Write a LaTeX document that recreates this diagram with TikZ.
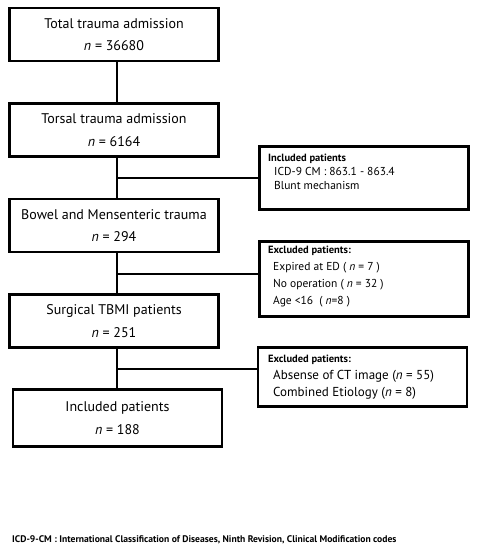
\documentclass[tikz,border=0pt]{standalone}
\usepackage{fontspec}
\setmainfont{PT Sans}

\newcommand{\hd}[1]{{\bfseries\fontsize{10.5}{17}\selectfont #1}}
\newcommand{\nn}{{\itshape n}}

\tikzset{
  mainbox/.style={draw, line width=2.4pt, minimum width=209pt, minimum height=53pt,
    align=center, font=\fontsize{14}{22.5}\selectfont},
  sidebox/.style={draw, line width=2.4pt, minimum width=209pt},
  sidetext/.style={anchor=north west, inner sep=0pt, align=left,
    font=\fontsize{11.5}{17}\selectfont},
  link/.style={line width=2pt},
}

\begin{document}
\begin{tikzpicture}[x=1pt, y=-1pt]
    \useasboundingbox (0,0) rectangle (478,550);

    % main column
    \node[mainbox] (total) at (114,34.5) {Total trauma admission\\ \nn{} = 36680};
    \node[mainbox] (torsal) at (114,130) {Torsal trauma admission\\ \nn{} = 6164};
    \node[mainbox] (bowel) at (114,225.5) {Bowel and Mensenteric trauma\\ \nn{} = 294};
    \node[mainbox] (surg) at (114,321) {Surgical TBMI patients\\ \nn{} = 251};
    \node[mainbox, minimum height=57pt] (incl) at (117.5,418) {Included patients\\ \nn{} = 188};

    % side boxes
    \node[sidebox, minimum height=63pt] (inc) at (364,178) {};
    \node[sidetext, font=\fontsize{11.5}{14}\selectfont] (inctext) at (268,154)
        {\hd{Included patients}\\ \hspace*{6pt}ICD-9 CM : 863.1 - 863.4\\ \hspace*{6pt}Blunt mechanism};
    \node[sidebox, minimum height=75pt] (exc1) at (364,279) {};
    \node[sidetext] (exc1text) at (268,246)
        {\hd{Excluded patients:}\\ \hspace*{5pt}Expired at ED ( \nn{} = 7 )\\ \hspace*{5pt}No operation ( \nn{} = 32 )\\ \hspace*{5pt}Age <16 \ ( \nn=8 )};
    \node[sidebox, minimum height=59pt] (exc2) at (362.5,377) {};
    \node[sidetext, font=\fontsize{13}{17}\selectfont] (exc2text) at (268,355)
        {\hd{Excluded patients:}\\ \hspace*{5pt}Absense of CT image (\nn{} = 55)\\ \hspace*{5pt}Combined Etiology (\nn{} = 8)};

    % connectors
    \coordinate (trunk) at (117,0);
    \coordinate (br0) at (117,178);
    \coordinate (br1) at (117,274);
    \coordinate (br2) at (117,369);
    \draw[link] (total.south -| trunk) -- (torsal.north -| trunk);
    \draw[link] (torsal.south -| trunk) -- (bowel.north -| trunk);
    \draw[link] (bowel.south -| trunk) -- (surg.north -| trunk);
    \draw[link] (surg.south -| trunk) -- (incl.north -| trunk);
    \draw[link] (br0) -- (br0 -| inc.west);
    \draw[link] (br1) -- (br1 -| exc1.west);
    \draw[link] (br2) -- (br2 -| exc2.west);

    \node[anchor=west, inner sep=0pt, font=\bfseries\fontsize{9.6}{12}\selectfont] (note) at (12,540)
        {ICD-9-CM : International Classification of Diseases, Ninth Revision, Clinical Modification codes};
\end{tikzpicture}
\end{document}
